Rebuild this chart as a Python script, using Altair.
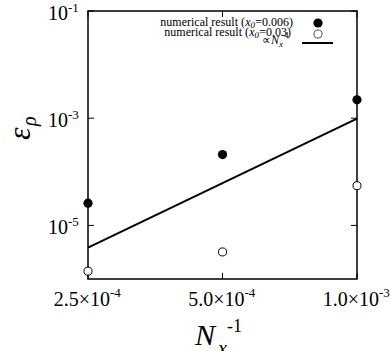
import altair as alt
import pandas as pd

# ---- data ----
x_vals = [2.5e-4, 5.0e-4, 1.0e-3]
err_x006 = [2.6e-5, 2.1e-4, 2.2e-3]      # filled circles
err_x03 = [1.4e-6, 3.2e-6, 5.5e-5]       # open circles
fit_x = [2.5e-4, 1.0e-3]
fit_y = [3.85e-6, 9.86e-4]               # ∝ N_x^-4 guide line

ytick_vals = [1e-1, 1e-3, 1e-5]
ytick_exp = ["-1", "-3", "-5"]
xtick_vals = [2.5e-4, 5.0e-4, 1.0e-3]
xtick_mant = ["2.5×10", "5.0×10", "1.0×10"]
xtick_exp = ["-4", "-4", "-3"]

FONT = "Times New Roman, Liberation Serif, serif"
W, H = 269, 268

xs = alt.Scale(type="log", domain=[2.5e-4, 1.0e-3], nice=False)
ys = alt.Scale(type="log", domain=[1e-6, 1e-1], nice=False)

pts = pd.DataFrame({"x": x_vals, "a": err_x006, "b": err_x03})
fit = pd.DataFrame({"x": fit_x, "y": fit_y})
yt = pd.DataFrame({"v": ytick_vals, "e": ytick_exp})
xt = pd.DataFrame({"v": xtick_vals, "m": xtick_mant, "e": xtick_exp})
one = pd.DataFrame({"k": [0]})

X = lambda f: alt.X(f, type="quantitative", scale=xs, axis=None)
Y = lambda f: alt.Y(f, type="quantitative", scale=ys, axis=None)

line = alt.Chart(fit).mark_line(color="black", strokeWidth=2, clip=False).encode(x=X("x"), y=Y("y"))
filled = alt.Chart(pts).mark_point(filled=True, shape="circle", size=85, color="black", opacity=1, clip=False).encode(x=X("x"), y=Y("a"))
hollow = alt.Chart(pts).mark_point(filled=False, shape="circle", size=65, color="black", strokeWidth=1, fill="white", fillOpacity=1, clip=False).encode(x=X("x"), y=Y("b"))

# inward ticks (mirrored)
tl = alt.Chart(yt).mark_rule(color="black", strokeWidth=1).encode(y=Y("v"), x=alt.value(0), x2=alt.value(6))
tr = alt.Chart(yt).mark_rule(color="black", strokeWidth=1).encode(y=Y("v"), x=alt.value(W - 6), x2=alt.value(W))
tb = alt.Chart(xt).mark_rule(color="black", strokeWidth=1).encode(x=X("v"), y=alt.value(H - 6), y2=alt.value(H))
tt = alt.Chart(xt).mark_rule(color="black", strokeWidth=1).encode(x=X("v"), y=alt.value(0), y2=alt.value(6))

# tick labels with superscripts
ylab = alt.Chart(yt).mark_text(font=FONT, fontSize=20, align="right", baseline="alphabetic", dy=9, color="black").encode(
    y=Y("v"), x=alt.value(-20), text=alt.value("10"))
ysup = alt.Chart(yt).mark_text(font=FONT, fontSize=13, align="left", baseline="alphabetic", dy=1, color="black").encode(
    y=Y("v"), x=alt.value(-20), text="e:N")
xlab = alt.Chart(xt).mark_text(font=FONT, fontSize=20, align="right", baseline="alphabetic", dx=22, color="black").encode(
    x=X("v"), y=alt.value(H + 27), text="m:N")
xsup = alt.Chart(xt).mark_text(font=FONT, fontSize=13, align="left", baseline="alphabetic", dx=22, color="black").encode(
    x=X("v"), y=alt.value(H + 18), text="e:N")


def txt(s, x, y, size, style="normal", align="left", angle=0):
    kw = dict(text=s, font=FONT, fontSize=size, fontStyle=style, align=align, baseline="alphabetic", color="black")
    if angle:
        kw["angle"] = angle
    return alt.Chart(one).mark_text(**kw).encode(x=alt.value(x), y=alt.value(y))


titles = [
    txt("ε", -58, 129, 32, "italic", "left", 270),
    txt("ρ", -52, 115, 20, "italic", "left", 270),
    txt("N", 107, 334, 30, "italic"),
    txt("x", 130, 344, 20, "italic"),
    txt("-1", 139, 321, 18),
]

legend = [
    txt("=0.006)", 205, 15, 12, align="right"),
    txt("0", 167, 17, 9, "italic", "right"),
    txt("x", 162.5, 15, 12, "italic", "right"),
    txt("numerical result (", 157, 15, 12, align="right"),
    txt("=0.03)", 203, 25, 12, align="right"),
    txt("0", 171, 27, 9, "italic", "right"),
    txt("x", 166.5, 25, 12, "italic", "right"),
    txt("numerical result (", 161, 25, 12, align="right"),
    txt("∝", 183, 33, 12, align="right"),
    txt("N", 183, 33, 12, "italic"),
    txt("x", 191, 36, 9, "italic"),
    txt("-4", 193, 27, 9),
    alt.Chart(one).mark_point(filled=True, shape="circle", size=85, color="black", opacity=1).encode(x=alt.value(230), y=alt.value(12)),
    alt.Chart(one).mark_point(filled=False, shape="circle", size=65, color="black", strokeWidth=1).encode(x=alt.value(230), y=alt.value(23)),
    alt.Chart(one).mark_rule(color="black", strokeWidth=2).encode(x=alt.value(214), x2=alt.value(245), y=alt.value(32)),
]

chart = alt.layer(line, tl, tr, tb, tt, filled, hollow, ylab, ysup, xlab, xsup, *titles, *legend).properties(
    width=W, height=H,
    padding={"left": 88, "top": 11, "right": 34, "bottom": 72},
    autosize=alt.AutoSizeParams(type="none"),
    background="white",
).configure_view(stroke="black", strokeWidth=1.5)

chart.save("out.html", embed_options={"renderer": "svg", "actions": False})
